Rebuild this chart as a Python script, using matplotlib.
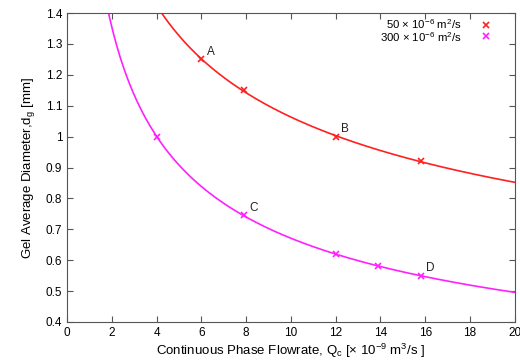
import numpy as np
import matplotlib
matplotlib.use("Agg")
import matplotlib.pyplot as plt

plt.rcParams['font.family'] = ['Liberation Sans', 'DejaVu Sans']
plt.rcParams['mathtext.fontset'] = 'custom'
plt.rcParams['mathtext.rm'] = 'Liberation Sans'

# data
q_red = [6.0, 7.9, 12.0, 15.8]
d_red = [1.25, 1.15, 1.0, 0.92]
q_mag = [4.0, 7.9, 12.0, 13.9, 15.8]
d_mag = [1.0, 0.745, 0.62, 0.58, 0.55]
point_labels = {'A': (6.0, 1.25), 'B': (12.0, 1.0), 'C': (7.9, 0.745), 'D': (15.8, 0.55)}
xticks = [0, 2, 4, 6, 8, 10, 12, 14, 16, 18, 20]
yticks = [0.4, 0.5, 0.6, 0.7, 0.8, 0.9, 1.0, 1.1, 1.2, 1.3, 1.4]

fig = plt.figure(figsize=(5.2, 3.63), dpi=100)
ax = fig.add_axes([0.129, 0.113, 0.861, 0.851])

def powfit(q, d):
    b, la = np.polyfit(np.log(q), np.log(d), 1)
    return np.exp(la), b

qq = np.linspace(0.5, 20, 400)
red = '#ff2020'
mag = '#ff20ff'
a, b = powfit(q_red, d_red)
ax.plot(qq, a * qq ** b, color=red, lw=1.2)
a, b = powfit(q_mag, d_mag)
ax.plot(qq, a * qq ** b, color=mag, lw=1.2)
ax.plot(q_red, d_red, 'x', color=red, ms=5, mew=1.2)
ax.plot(q_mag, d_mag, 'x', color=mag, ms=5, mew=1.2)

for k, (x, y) in point_labels.items():
    ax.annotate(k, (x, y), xytext=(4, 3), textcoords='offset points', fontsize=8.5, color='#222222')

# legend gnuplot style
ax.text(0.882, 0.963, r'50 $\times$ 10$^{-6}$ m$^2$/s', transform=ax.transAxes, ha='right', va='center', fontsize=8.2)
ax.text(0.882, 0.922, r'300 $\times$ 10$^{-6}$ m$^2$/s', transform=ax.transAxes, ha='right', va='center', fontsize=8.2)
ax.plot([0.935], [0.960], 'x', color=red, ms=5, mew=1.2, transform=ax.transAxes)
ax.plot([0.935], [0.925], 'x', color=mag, ms=5, mew=1.2, transform=ax.transAxes)

ax.set_xlim(0, 20)
ax.set_ylim(0.4, 1.4)
ax.set_xticks(xticks)
ax.set_xticklabels([str(t) for t in xticks])
ax.set_yticks(yticks)
ax.set_yticklabels([('%g' % t) for t in yticks])
ax.tick_params(direction='in', top=True, right=True, labelsize=8.5, length=4, color='#555555')
for s in ax.spines.values():
    s.set_color('#555555')
ax.set_xlabel(r'Continuous Phase Flowrate, Q$_\mathrm{c}$ [$\times$ 10$^{-9}$ m$^3$/s ]', fontsize=9.5, labelpad=2)
ax.set_ylabel(r'Gel Average Diameter,d$_\mathrm{g}$ [mm]', fontsize=9.5, labelpad=6)

fig.savefig('out.png', dpi=100)
